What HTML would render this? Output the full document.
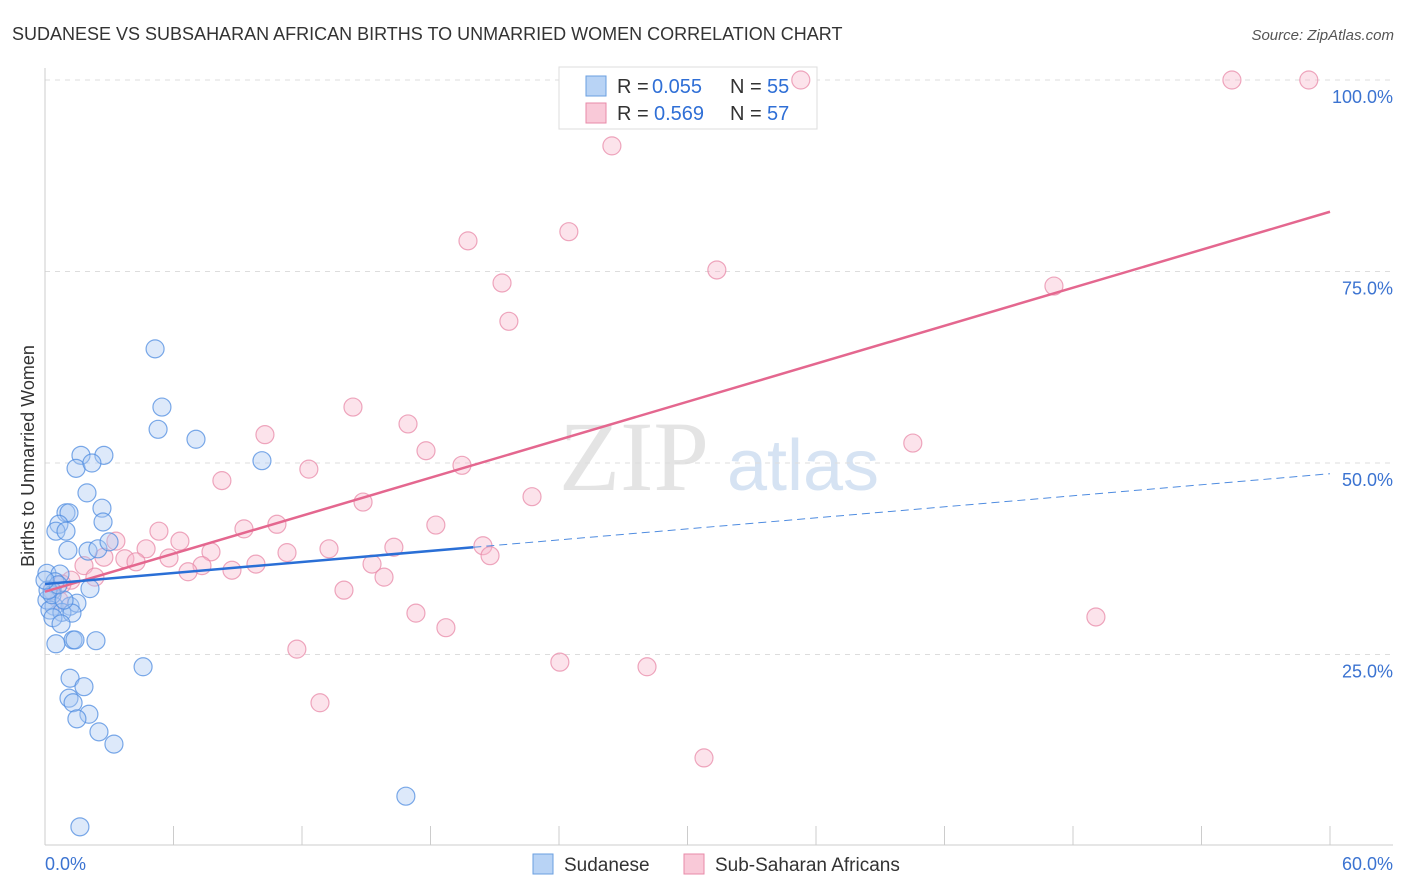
<!DOCTYPE html>
<html><head><meta charset="utf-8"><style>
body{margin:0;background:#fff;font-family:"Liberation Sans",sans-serif}
svg{display:block}
</style></head><body>
<svg id="chart" width="1406" height="892">
<text x="12" y="40" font-size="18" fill="#333">SUDANESE VS SUBSAHARAN AFRICAN BIRTHS TO UNMARRIED WOMEN CORRELATION CHART</text>
<text x="1394" y="40" font-size="15" fill="#555" font-style="italic" text-anchor="end">Source: ZipAtlas.com</text>
<g>
<text x="634" y="490" font-size="100" font-family="Liberation Serif,serif" fill="#e4e4e4" text-anchor="middle">ZIP</text>
<text x="803" y="490" font-size="72" fill="#d6e3f3" text-anchor="middle">atlas</text>
</g>
<g id="grid"></g>
<g id="axes"></g>
<g>
<rect x="559" y="67" width="258" height="62" fill="#fff" stroke="#ddd"/>
<rect x="586" y="76" width="20" height="20" fill="#b8d3f5" stroke="#6a9fe0"/>
<text x="617" y="93" font-size="20" fill="#333">R =</text>
<text x="652" y="93" font-size="20" fill="#2f6fd6">0.055</text>
<text x="730" y="93" font-size="20" fill="#333">N =</text>
<text x="767" y="93" font-size="20" fill="#2f6fd6">55</text>
<rect x="586" y="103" width="20" height="20" fill="#f9c9d8" stroke="#e88aa8"/>
<text x="617" y="120" font-size="20" fill="#333">R =</text>
<text x="654" y="120" font-size="20" fill="#2f6fd6">0.569</text>
<text x="730" y="120" font-size="20" fill="#333">N =</text>
<text x="767" y="120" font-size="20" fill="#2f6fd6">57</text>
</g>
<g id="marks"></g>
<text transform="translate(34,456) rotate(-90)" font-size="18" fill="#333" text-anchor="middle">Births to Unmarried Women</text>
<g>
<rect x="533" y="854" width="20" height="20" fill="#b8d3f5" stroke="#6a9fe0"/>
<text x="564" y="871" font-size="19" fill="#333">Sudanese</text>
<rect x="684" y="854" width="20" height="20" fill="#f9c9d8" stroke="#e88aa8"/>
<text x="715" y="871" font-size="19" fill="#333">Sub-Saharan Africans</text>
</g>
</svg>
<script>
const yTicks=[25,50,75,100];
const yTickLabels=["25.0%","50.0%","75.0%","100.0%"];
const xTickCount=10;
const xLabels=["0.0%","60.0%"];
const sudX=[5.14,5.46,5.28,7.05,10.13,1.68,2.75,1.45,2.19,1.96,2.66,0.98,1.12,2.71,0.65,0.51,0.98,1.07,2.01,2.47,2.99,0.09,0.70,0.47,2.10,0.33,0.09,0.42,1.17,1.49,0.23,0.79,1.26,0.37,0.75,1.31,1.40,2.38,0.51,4.58,1.17,1.82,1.12,1.31,2.05,1.49,2.52,3.22,16.85,1.63,0.33,0.89,0.14,0.61,0.0];
const sudY=[64.9,57.3,54.4,53.1,50.3,51.0,51.0,49.3,50.0,46.1,44.1,43.5,43.5,42.3,42.0,41.1,41.1,38.6,38.5,38.8,39.7,35.6,35.5,34.5,33.6,33.3,32.1,31.3,31.3,31.7,30.8,30.5,30.4,29.8,29.0,26.9,26.9,26.8,26.4,23.4,21.9,20.8,19.3,18.7,17.2,16.6,14.9,13.3,6.5,2.5,32.8,32.1,33.4,34.1,34.7];
const ssaX=[35.29,55.42,59.01,26.47,24.46,19.75,21.34,31.37,21.66,47.11,14.38,16.95,10.27,17.79,40.52,12.32,19.47,8.26,14.85,22.74,18.25,10.83,9.29,5.32,3.31,6.30,13.26,16.29,20.45,4.72,20.78,7.75,11.30,2.75,3.73,4.25,5.79,7.33,9.85,8.73,6.68,15.27,15.83,1.82,2.33,1.21,0.79,0.33,0.65,13.96,17.32,18.72,11.76,12.84,24.04,28.11,49.07,30.77];
const ssaY=[100,100,100,91.4,80.2,79.0,73.5,75.2,68.5,73.1,57.3,55.1,53.7,51.6,52.6,49.2,49.7,47.7,44.9,45.6,41.9,42.0,41.4,41.1,39.8,39.8,38.8,39.0,39.2,38.8,37.9,38.4,38.3,37.7,37.5,37.1,37.6,36.6,36.8,36.0,35.8,36.8,35.1,36.6,35.1,34.7,34.2,33.4,32.1,33.4,30.4,28.5,25.7,18.7,24.0,23.4,29.9,11.5];
const sudLine=[34.2,48.6]; const sudSolidEnd=20;
const ssaLine=[33.2,82.8];
const NS="http://www.w3.org/2000/svg";
const X=v=>45+v*1285/60, Y=v=>846-v*7.66;
function mk(t,a,p){const e=document.createElementNS(NS,t);for(const k in a)e.setAttribute(k,a[k]);p.appendChild(e);return e;}
const grid=document.getElementById('grid'),axes=document.getElementById('axes'),marks=document.getElementById('marks');
yTicks.forEach((t,i)=>{
 const l=mk('line',{x1:45,x2:1393,y1:Y(t),y2:Y(t),stroke:'#ddd','stroke-dasharray':'5,5'},grid);
 
 
 const tx=mk('text',{x:1393,y:Y(t)+23,'font-size':18,fill:'#3b73d1','text-anchor':'end'},axes);
 tx.textContent=yTickLabels[i];
 
 
});
let ax=mk('line',{x1:45,x2:45,y1:68,y2:845,stroke:'#ccc'},axes);


ax=mk('line',{x1:45,x2:1393,y1:845,y2:845,stroke:'#ccc'},axes);


for(let i=1;i<=xTickCount;i++){const xx=X(i*60/xTickCount);
 const t=mk('line',{x1:xx,x2:xx,y1:826,y2:845,stroke:'#ccc'},axes);
 
 }
[[0,'start',45],[60,'end',1393]].forEach((d,i)=>{const t=mk('text',{x:d[2],y:870,'font-size':18,fill:'#3b73d1','text-anchor':d[1]},axes);t.textContent=xLabels[i];
 
 });
function pts(xs,ys,fill,stroke,name){xs.forEach((x,i)=>{const c=mk('circle',{cx:X(x),cy:Y(ys[i]),r:9,fill:fill,'fill-opacity':0.4,stroke:stroke,'stroke-width':1.2,'stroke-opacity':0.75},marks);
 
 });}
pts(ssaX,ssaY,'#f7b8cc','#e88aa8','subsaharan-point');
pts(sudX,sudY,'#a9c9f2','#4f8ce0','sudanese-point');
const f=(l,x)=>l[0]+(l[1]-l[0])*x/60;
let ln=mk('line',{x1:X(0),y1:Y(f(ssaLine,0)),x2:X(60),y2:Y(f(ssaLine,60)),stroke:'#e4678f','stroke-width':2.5},marks);


ln=mk('line',{x1:X(0),y1:Y(f(sudLine,0)),x2:X(sudSolidEnd),y2:Y(f(sudLine,sudSolidEnd)),stroke:'#2a6fd6','stroke-width':2.5},marks);


ln=mk('line',{x1:X(sudSolidEnd),y1:Y(f(sudLine,sudSolidEnd)),x2:X(60),y2:Y(f(sudLine,60)),stroke:'#4f8ce0','stroke-width':1,'stroke-dasharray':'8,5'},marks);


</script>
</body></html>
